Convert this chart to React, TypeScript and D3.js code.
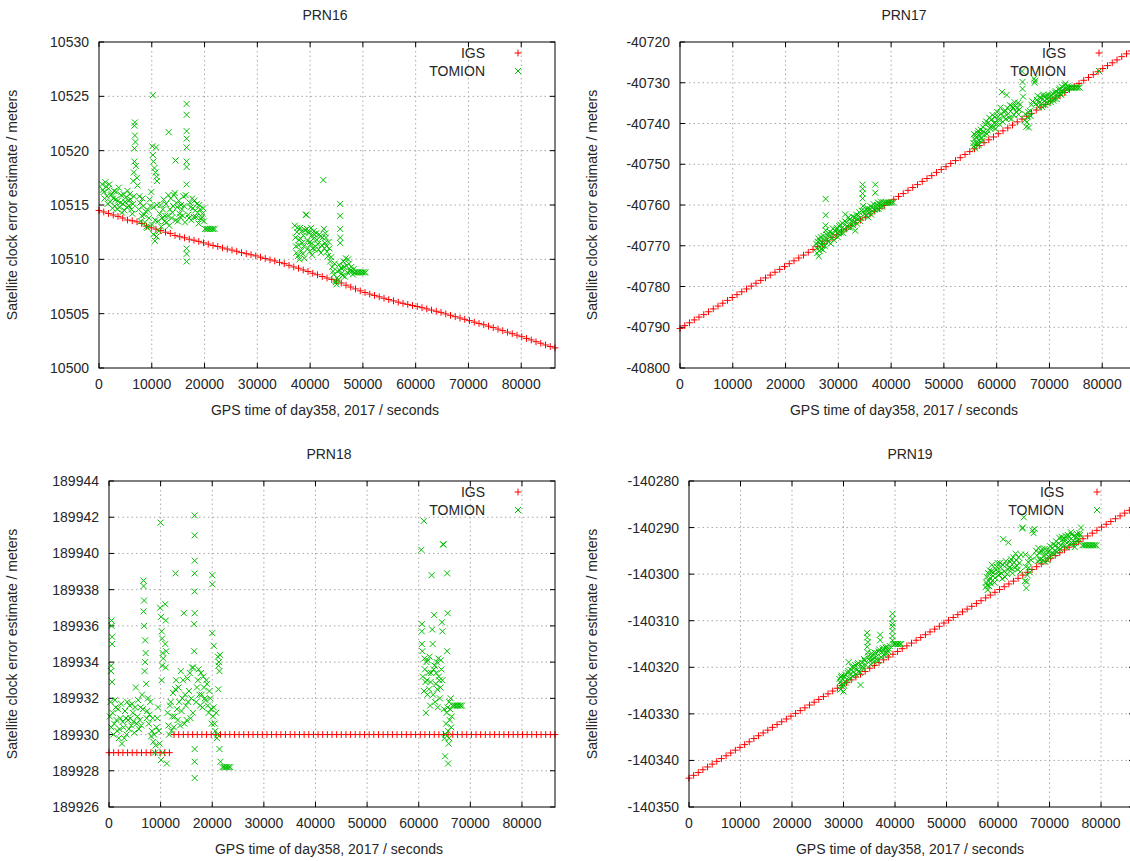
import React from 'react';
import * as d3 from 'd3';

// IGS epochs (every 15 min of the day)
const IGS_EPOCHS = [
  0, 900, 1800, 2700, 3600, 4500, 5400, 6300, 7200, 8100, 9000, 9900,
  10800, 11700, 12600, 13500, 14400, 15300, 16200, 17100, 18000, 18900, 19800,
  20700, 21600, 22500, 23400, 24300, 25200, 26100, 27000, 27900, 28800, 29700,
  30600, 31500, 32400, 33300, 34200, 35100, 36000, 36900, 37800, 38700, 39600,
  40500, 41400, 42300, 43200, 44100, 45000, 45900, 46800, 47700, 48600, 49500,
  50400, 51300, 52200, 53100, 54000, 54900, 55800, 56700, 57600, 58500, 59400,
  60300, 61200, 62100, 63000, 63900, 64800, 65700, 66600, 67500, 68400, 69300,
  70200, 71100, 72000, 72900, 73800, 74700, 75600, 76500, 77400, 78300, 79200,
  80100, 81000, 81900, 82800, 83700, 84600, 85500, 86400,
];

const X_TICKS = [0, 10000, 20000, 30000, 40000, 50000, 60000, 70000, 80000];

// ---- PRN16 ----
const PRN16_TICKS = [10500, 10505, 10510, 10515, 10520, 10525, 10530];
const PRN16_IGS = [
  10514.5, 10514.36, 10514.22, 10514.08, 10513.95, 10513.8, 10513.62, 10513.55, 10513.45, 10513.3, 10513.05, 10512.9,
  10512.78, 10512.65, 10512.5, 10512.38, 10512.2, 10512.08, 10511.98, 10511.85, 10511.76, 10511.65, 10511.52,
  10511.4, 10511.28, 10511.18, 10511.05, 10510.95, 10510.85, 10510.74, 10510.62, 10510.52, 10510.42, 10510.32,
  10510.2, 10510.08, 10509.95, 10509.85, 10509.72, 10509.6, 10509.45, 10509.3, 10509.18, 10509.02, 10508.88,
  10508.72, 10508.58, 10508.42, 10508.28, 10508.15, 10508.0, 10507.82, 10507.62, 10507.45, 10507.28, 10507.1,
  10506.95, 10506.8, 10506.68, 10506.55, 10506.42, 10506.3, 10506.18, 10506.06, 10505.95, 10505.85, 10505.75,
  10505.66, 10505.55, 10505.44, 10505.33, 10505.22, 10505.12, 10504.98, 10504.85, 10504.72, 10504.6, 10504.48,
  10504.36, 10504.22, 10504.1, 10503.98, 10503.85, 10503.72, 10503.58, 10503.44, 10503.3, 10503.16, 10503.02,
  10502.88, 10502.72, 10502.58, 10502.42, 10502.28, 10502.12, 10501.98, 10501.85,
];
const PRN16_TOMION: [number, number][] = [
  [600, 10516.9], [900, 10516.2], [1200, 10517.1], [1500, 10515.8], [1800, 10516.5], [2100, 10515.3], [2400, 10516.0],
  [2700, 10515.6], [3000, 10514.9], [3300, 10516.2], [3600, 10515.4], [3900, 10514.8], [4200, 10515.9], [4500, 10515.1],
  [4800, 10514.5], [5100, 10515.7], [5400, 10516.3], [5700, 10514.9], [6000, 10515.5], [6300, 10514.2], [6600, 10515.8],
  [6500, 10517.2], [6600, 10518.0], [6700, 10519.0], [6700, 10520.2], [6800, 10521.4], [6700, 10522.3], [6800, 10522.6],
  [6900, 10520.8], [7000, 10518.6], [7200, 10517.5], [7300, 10516.8],
  [7500, 10514.6], [7800, 10515.2], [8100, 10514.0], [8400, 10514.9], [8700, 10513.4], [9000, 10513.0], [9300, 10514.5],
  [9600, 10515.5], [9900, 10516.2],
  [10100, 10520.4], [10200, 10519.6], [10300, 10519.0], [10200, 10525.1], [10500, 10518.4], [10700, 10518.0],
  [10900, 10517.6], [10800, 10520.3], [11000, 10517.2], [10300, 10512.3], [10600, 10511.7], [10900, 10512.1], [11200, 10513.5],
  [11500, 10514.2], [11800, 10513.0], [12100, 10514.6], [12400, 10513.5], [12700, 10515.1], [13000, 10514.0], [13200, 10521.7],
  [13300, 10513.1], [13600, 10515.6], [13900, 10514.3], [14200, 10515.9], [14500, 10519.1], [14500, 10513.6], [14800, 10514.8],
  [15100, 10515.4], [15400, 10513.9], [15700, 10514.6], [16000, 10515.8], [16300, 10513.4],
  [16600, 10524.3], [16600, 10523.3], [16600, 10521.8], [16600, 10521.1], [16600, 10520.3], [16600, 10519.0],
  [16600, 10518.5], [16600, 10516.9], [16600, 10511.0], [16600, 10510.5], [16600, 10509.8],
  [16900, 10514.1], [17200, 10515.2], [17500, 10513.6], [17800, 10514.7], [18100, 10515.4], [18400, 10513.9], [18700, 10514.3],
  [19000, 10515.0], [19300, 10513.7], [19600, 10514.2], [19900, 10513.5],
  [750, 10516.4], [1050, 10515.6], [1350, 10516.7], [1650, 10515.1], [1950, 10516.9], [2250, 10515.9], [2550, 10514.7],
  [2850, 10516.3], [3150, 10515.5], [3450, 10514.6], [3750, 10516.6], [4050, 10515.2], [4350, 10514.3], [4650, 10516.0],
  [4950, 10515.3], [5250, 10514.8], [5550, 10515.4], [5850, 10516.0], [6150, 10514.6], [6450, 10515.1], [7650, 10515.8],
  [7950, 10513.5], [8250, 10515.6], [8550, 10514.1], [8850, 10514.4], [9150, 10512.9], [9450, 10513.8], [9750, 10514.9],
  [10050, 10513.2], [10350, 10514.8], [10650, 10513.6], [10950, 10515.0], [11350, 10512.6], [11650, 10515.0], [11950, 10513.8],
  [12250, 10515.5], [12550, 10514.0], [12850, 10513.4], [13150, 10515.9], [13450, 10514.6], [13750, 10513.8], [14050, 10514.9],
  [14350, 10516.1], [14650, 10515.2], [14950, 10513.5], [15250, 10514.2], [15550, 10515.0], [15850, 10514.0], [16150, 10514.9],
  [16450, 10515.9], [17050, 10513.8], [17350, 10514.8], [17650, 10515.6], [17950, 10513.9], [18250, 10514.5], [18550, 10515.1],
  [18850, 10513.3], [19150, 10514.6], [19450, 10513.9], [19750, 10514.7],
  [20100, 10512.8], [20400, 10512.8], [20700, 10512.8], [21000, 10512.8], [21300, 10512.8], [21600, 10512.8], [21900, 10512.8],
  [37100, 10513.1], [37300, 10511.2], [37500, 10512.5], [37700, 10510.3], [37900, 10511.8], [38100, 10512.9], [38300, 10510.8],
  [38500, 10511.5], [38700, 10512.2], [38900, 10510.1], [39200, 10514.1], [39300, 10514.1], [39400, 10512.8], [39600, 10511.0],
  [39800, 10512.4], [40000, 10511.6], [40200, 10512.9], [40400, 10510.4], [40600, 10511.9], [40800, 10512.3], [41000, 10511.2],
  [41300, 10511.8], [41600, 10510.9], [41900, 10512.1], [42200, 10511.3], [42500, 10517.3], [42600, 10512.8], [42800, 10511.5],
  [43000, 10512.0], [43200, 10510.7], [43500, 10511.6], [43800, 10509.8],
  [37200, 10512.0], [37400, 10510.6], [37600, 10512.9], [37800, 10511.3], [38000, 10510.0], [38200, 10511.9], [38400, 10512.6],
  [38600, 10510.5], [38800, 10511.2], [39000, 10512.7], [39500, 10511.7], [39700, 10512.5], [39900, 10510.7], [40100, 10511.4],
  [40300, 10512.2], [40500, 10511.0], [40700, 10512.6], [40900, 10510.9], [41150, 10512.4], [41450, 10511.4], [41750, 10512.3],
  [42050, 10510.6], [42350, 10512.0], [42700, 10511.0], [42900, 10512.4], [43100, 10511.2], [43350, 10510.3], [43650, 10511.0],
  [44000, 10510.2], [44350, 10508.9], [44650, 10509.6], [44900, 10507.9], [45100, 10508.3], [45350, 10508.1], [45600, 10509.0],
  [44200, 10509.3], [44500, 10508.6], [44800, 10508.0], [45000, 10507.7], [45200, 10508.9], [45500, 10509.5],
  [45700, 10515.1], [45700, 10514.0], [45700, 10512.8], [45700, 10512.0], [45700, 10511.5],
  [46000, 10508.7], [46300, 10509.8], [46600, 10508.4], [46900, 10509.4], [47200, 10510.0], [47500, 10508.9], [47800, 10509.3],
  [48100, 10508.6], [45850, 10509.2], [46150, 10508.5], [46450, 10509.3], [46750, 10510.1], [47050, 10508.8], [47350, 10509.6],
  [47650, 10509.0], [47950, 10508.9], [48250, 10509.1],
  [48400, 10508.8], [48700, 10508.8], [49000, 10508.8], [49300, 10508.8], [49600, 10508.8], [49900, 10508.8], [50200, 10508.8],
  [50500, 10508.8],
];

// ---- PRN17 ----
const PRN17_TICKS = [-40800, -40790, -40780, -40770, -40760, -40750, -40740, -40730, -40720];
const PRN17_IGS = [
  -40790.3, -40789.6, -40788.9, -40788.2, -40787.5, -40786.9, -40786.2, -40785.5, -40784.8, -40784.1, -40783.4, -40782.7,
  -40782.0, -40781.3, -40780.6, -40779.9, -40779.2, -40778.5, -40777.9, -40777.2, -40776.5, -40775.8, -40775.1,
  -40774.4, -40773.7, -40773.0, -40772.3, -40771.6, -40770.9, -40770.2, -40769.5, -40768.8, -40768.0, -40767.3,
  -40766.6, -40765.9, -40765.1, -40764.4, -40763.7, -40763.0, -40762.2, -40761.5, -40760.8, -40760.1, -40759.4,
  -40758.6, -40757.9, -40757.2, -40756.4, -40755.7, -40755.0, -40754.2, -40753.5, -40752.8, -40752.0, -40751.3,
  -40750.6, -40749.8, -40749.1, -40748.4, -40747.6, -40746.9, -40746.2, -40745.4, -40744.7, -40744.0, -40743.3,
  -40742.5, -40741.8, -40741.1, -40740.4, -40739.6, -40738.9, -40738.2, -40737.5, -40736.7, -40736.0, -40735.3,
  -40734.5, -40733.8, -40733.1, -40732.4, -40731.6, -40730.9, -40730.2, -40729.4, -40728.7, -40728.0, -40727.3,
  -40726.5, -40725.8, -40725.1, -40724.4, -40723.6, -40722.9, -40722.2, -40721.5,
];
const PRN17_TOMION: [number, number][] = [
  [25800, -40769.5], [26000, -40771.8], [26200, -40768.2], [26300, -40772.6], [26500, -40770.4], [26700, -40767.9],
  [26900, -40769.8], [27100, -40771.0], [27300, -40768.5],
  [27600, -40758.5], [27600, -40762.5], [27600, -40765.0], [27600, -40766.2],
  [27800, -40767.3], [28100, -40769.0], [28400, -40766.6], [28700, -40768.1], [29000, -40765.8], [29300, -40767.5],
  [29600, -40766.0], [29900, -40767.9], [30200, -40765.2], [30500, -40766.8], [30800, -40764.5], [31100, -40765.9],
  [31300, -40762.3], [31500, -40764.2], [31800, -40765.4], [32100, -40763.6], [32400, -40764.8], [32700, -40762.9],
  [33000, -40764.0], [33200, -40766.3], [33400, -40762.4], [33700, -40763.5], [34000, -40761.8], [34200, -40763.1],
  [34600, -40755.0], [34600, -40756.0], [34600, -40757.2], [34600, -40758.4], [34700, -40760.2],
  [34900, -40761.4], [35200, -40762.6], [35500, -40760.8], [35800, -40762.0], [36100, -40760.3], [36400, -40761.5],
  [36700, -40759.8], [37000, -40755.0], [37000, -40757.0], [37200, -40760.9], [37500, -40759.4], [37800, -40760.5],
  [38100, -40759.2], [38400, -40760.1],
  [25900, -40770.6], [26100, -40769.0], [26400, -40771.2], [26600, -40768.9], [26800, -40770.8], [27000, -40769.2],
  [27200, -40767.6], [27450, -40770.1], [27950, -40768.4], [28250, -40767.2], [28550, -40769.5], [28850, -40766.9],
  [29150, -40768.6], [29450, -40766.5], [29750, -40765.6], [30050, -40767.0], [30350, -40764.8], [30650, -40765.7],
  [30950, -40766.9], [31250, -40764.0], [31650, -40765.2], [31950, -40763.0], [32250, -40765.6], [32550, -40763.9],
  [32850, -40765.0], [33100, -40763.1], [33550, -40764.6], [33850, -40762.6], [34100, -40763.9], [34400, -40761.4],
  [35050, -40762.1], [35350, -40761.2], [35650, -40763.0], [35950, -40761.0], [36250, -40762.4], [36550, -40760.6],
  [36850, -40761.2], [37350, -40760.0], [37650, -40761.0], [37950, -40759.8], [38250, -40760.4],
  [38600, -40759.4], [38900, -40759.4], [39200, -40759.4], [39500, -40759.4], [39800, -40759.4], [40100, -40759.4],
  [40400, -40759.4],
  [55600, -40744.8], [55700, -40742.6], [55900, -40746.1], [56100, -40743.5], [56300, -40745.0], [56500, -40741.8],
  [56700, -40744.1], [56900, -40742.3], [57100, -40743.6], [57400, -40740.9], [57700, -40742.8], [58000, -40739.5],
  [58300, -40741.7], [58600, -40738.6], [58900, -40740.8], [59200, -40737.9], [59500, -40739.9], [59800, -40741.3],
  [60100, -40737.2], [60400, -40739.0], [60700, -40736.1], [61000, -40732.3], [61300, -40738.4], [61600, -40736.8],
  [61900, -40733.0], [62200, -40737.6], [62500, -40735.5], [62800, -40738.9], [63100, -40736.2], [63400, -40734.8],
  [63700, -40737.1], [64000, -40735.0], [64300, -40736.6],
  [64800, -40727.2], [64900, -40729.8], [64900, -40731.5], [65000, -40733.4],
  [65300, -40739.2], [65600, -40740.8], [65900, -40738.3], [66100, -40741.0], [66300, -40736.9], [66600, -40735.4],
  [67100, -40729.0], [67200, -40730.0], [67300, -40729.5],
  [67600, -40734.2], [67900, -40736.0], [68200, -40733.6], [68500, -40735.1], [68800, -40732.9], [69100, -40734.4],
  [69400, -40733.2], [69700, -40735.0], [70000, -40733.5], [70300, -40734.8], [70600, -40732.6], [70900, -40733.9],
  [71200, -40732.1], [71500, -40733.3], [71800, -40731.7], [72100, -40732.8], [72400, -40731.0], [72700, -40732.4],
  [73000, -40730.2], [73300, -40731.8],
  [55650, -40745.6], [55800, -40743.8], [56000, -40742.9], [56200, -40744.6], [56400, -40742.4], [56600, -40745.3],
  [56800, -40743.0], [57000, -40741.5], [57250, -40744.2], [57550, -40742.0], [57850, -40740.2], [58150, -40742.6],
  [58450, -40739.8], [58750, -40741.2], [59050, -40739.0], [59350, -40741.0], [59650, -40738.4], [59950, -40740.0],
  [60250, -40738.3], [60550, -40740.2], [60850, -40737.6], [61150, -40739.6], [61450, -40737.2], [61750, -40738.9],
  [62050, -40736.2], [62350, -40738.6], [62650, -40737.0], [62950, -40735.8], [63250, -40737.9], [63550, -40735.6],
  [63850, -40736.3], [64150, -40737.8], [64450, -40735.3], [65450, -40737.7], [65750, -40739.6], [66000, -40737.2],
  [66450, -40738.2], [66800, -40734.6], [67450, -40735.2], [67750, -40733.2], [68050, -40734.9], [68350, -40733.8],
  [68650, -40736.0], [68950, -40733.4], [69250, -40735.5], [69550, -40734.0], [69850, -40733.0], [70150, -40734.2],
  [70450, -40733.1], [70750, -40734.4], [71050, -40732.4], [71350, -40734.0], [71650, -40732.5], [71950, -40731.4],
  [72250, -40733.0], [72550, -40731.8], [72850, -40730.6], [73150, -40731.4], [73450, -40730.8],
  [73600, -40731.2], [73900, -40731.2], [74200, -40731.2], [74500, -40731.2], [74800, -40731.2], [75100, -40731.2],
  [75400, -40731.2], [75700, -40731.2],
];

// ---- PRN18 ----
const PRN18_TICKS = [189926, 189928, 189930, 189932, 189934, 189936, 189938, 189940, 189942, 189944];
const PRN18_IGS = [
  189929, 189929, 189929, 189929, 189929, 189929, 189929, 189929, 189929, 189929, 189929, 189929,
  189929, 189929, 189930, 189930, 189930, 189930, 189930, 189930, 189930, 189930, 189930,
  189930, 189930, 189930, 189930, 189930, 189930, 189930, 189930, 189930, 189930, 189930,
  189930, 189930, 189930, 189930, 189930, 189930, 189930, 189930, 189930, 189930, 189930,
  189930, 189930, 189930, 189930, 189930, 189930, 189930, 189930, 189930, 189930, 189930,
  189930, 189930, 189930, 189930, 189930, 189930, 189930, 189930, 189930, 189930, 189930,
  189930, 189930, 189930, 189930, 189930, 189930, 189930, 189930, 189930, 189930, 189930,
  189930, 189930, 189930, 189930, 189930, 189930, 189930, 189930, 189930, 189930, 189930,
  189930, 189930, 189930, 189930, 189930, 189930, 189930, 189930,
];
const PRN18_TOMION: [number, number][] = [
  [500, 189936.3], [500, 189936.0], [600, 189935.4], [600, 189935.0], [400, 189933.8], [400, 189933.5], [600, 189932.9],
  [300, 189931.8], [700, 189931.2], [1000, 189930.6], [1300, 189931.5], [1600, 189930.2], [1900, 189929.8], [2200, 189930.9],
  [2500, 189929.5], [2800, 189930.4], [3100, 189931.3], [3400, 189930.0], [3700, 189930.8], [4000, 189931.6], [4300, 189930.5],
  [4600, 189931.2], [4900, 189930.1], [5200, 189932.6], [5500, 189931.0], [5800, 189930.3], [6100, 189931.5], [6400, 189932.2],
  [150, 189931.0], [450, 189930.4], [850, 189930.0], [1150, 189931.9], [1450, 189930.8], [1750, 189931.4], [2050, 189930.3],
  [2350, 189931.7], [2650, 189930.7], [2950, 189929.8], [3250, 189930.9], [3550, 189931.8], [3850, 189930.3], [4150, 189930.9],
  [4450, 189931.7], [4750, 189930.7], [5050, 189931.5], [5350, 189930.6], [5650, 189931.9], [5950, 189930.8], [6250, 189930.5],
  [6550, 189931.4],
  [6700, 189938.5], [6700, 189938.2], [6800, 189937.4], [6700, 189936.8], [6800, 189936.0], [7000, 189935.2], [7100, 189934.5],
  [7000, 189934.0], [6900, 189933.5], [7200, 189932.8],
  [7400, 189931.3], [7700, 189930.6], [8000, 189931.8], [8300, 189930.2], [8600, 189929.6], [8900, 189929.0], [9200, 189930.4],
  [9500, 189931.5], [9800, 189929.5],
  [7300, 189930.9], [7550, 189932.0], [7850, 189931.1], [8150, 189929.9], [8450, 189930.9], [8750, 189930.0], [9050, 189929.4],
  [9350, 189930.9], [9650, 189930.2],
  [10000, 189941.7], [9900, 189937.0], [10100, 189936.5], [10200, 189935.7], [10300, 189935.3], [10400, 189934.5],
  [10500, 189934.2], [10300, 189933.8], [10200, 189933.0], [10100, 189928.6], [10400, 189929.0], [10900, 189937.2],
  [11000, 189936.3], [10900, 189935.0], [11100, 189934.6], [11000, 189933.7], [11200, 189928.4],
  [11500, 189930.5], [11800, 189931.6], [12100, 189930.2], [12400, 189932.3], [12700, 189931.0], [12900, 189938.9],
  [13000, 189933.0], [13300, 189930.8], [13600, 189931.8], [13900, 189933.5], [14200, 189932.0], [14500, 189936.7],
  [14600, 189930.6], [14900, 189931.6], [15200, 189933.1], [15500, 189932.4], [15800, 189930.9], [16100, 189933.7],
  [11350, 189931.2], [11650, 189930.0], [11950, 189931.8], [12250, 189931.0], [12550, 189930.4], [12850, 189932.5],
  [13150, 189931.4], [13450, 189932.6], [13750, 189930.5], [14050, 189931.3], [14350, 189933.0], [14750, 189932.2],
  [15050, 189930.8], [15350, 189931.8], [15650, 189933.4], [15950, 189932.0], [16250, 189931.2],
  [16600, 189942.1], [16600, 189941.0], [16600, 189939.6], [16600, 189938.9], [16600, 189937.9], [16600, 189936.7],
  [16500, 189936.1], [16500, 189934.6], [16300, 189933.7], [16600, 189929.2], [16600, 189928.5], [16600, 189927.6],
  [16900, 189931.8], [17200, 189933.0], [17500, 189932.2], [17800, 189933.4], [18100, 189931.5], [18400, 189932.6],
  [18700, 189931.9], [19000, 189932.8], [19300, 189931.2], [19600, 189932.0], [19900, 189930.6],
  [17050, 189932.6], [17350, 189933.6], [17650, 189931.6], [17950, 189932.2], [18250, 189933.2], [18550, 189932.0],
  [18850, 189933.0], [19150, 189931.6], [19450, 189932.4], [19750, 189931.4], [20150, 189931.0], [20450, 189930.6],
  [20750, 189931.2],
  [20000, 189938.8], [20000, 189938.3], [20000, 189935.6], [20300, 189934.9],
  [20300, 189931.5], [20600, 189930.2], [20900, 189929.8], [21000, 189930.0],
  [21100, 189934.3], [21200, 189933.8], [21300, 189934.0], [21400, 189933.5], [21500, 189934.4], [21200, 189932.5],
  [21400, 189929.2], [21600, 189928.5],
  [22000, 189928.2], [22300, 189928.2], [22600, 189928.2], [22900, 189928.2], [23200, 189928.2], [23500, 189928.2],
  [60500, 189940.2], [60600, 189936.1], [60600, 189935.7], [60600, 189935.0], [60700, 189934.6], [61000, 189941.8],
  [60800, 189933.2], [61000, 189932.4], [61200, 189933.6], [61400, 189931.2], [61600, 189933.0], [61800, 189934.1],
  [62000, 189932.5], [62200, 189931.6], [62400, 189933.4], [62500, 189938.8], [62600, 189935.8], [62700, 189935.0],
  [62800, 189932.2], [63000, 189936.6], [63100, 189933.8], [63300, 189932.8], [63500, 189934.0], [63700, 189931.5],
  [63900, 189933.2], [64100, 189932.0], [64300, 189934.1], [64500, 189936.2], [64600, 189935.7], [64600, 189933.0],
  [61100, 189934.2], [61300, 189932.9], [61500, 189934.0], [61700, 189932.2], [61900, 189933.4], [62100, 189934.3],
  [62300, 189932.9], [62900, 189933.6], [63200, 189931.8], [63400, 189933.4], [63600, 189932.5], [63800, 189934.2],
  [64000, 189933.0], [64200, 189932.6], [64400, 189933.6],
  [64700, 189940.5], [64800, 189940.5], [64900, 189931.4], [65000, 189929.8], [65100, 189928.8], [65300, 189930.6],
  [65400, 189931.2], [65500, 189938.9], [65600, 189936.7], [65500, 189934.6], [65700, 189930.2], [65800, 189929.5],
  [65700, 189928.4], [65900, 189931.8], [66000, 189930.8], [66200, 189932.0], [66400, 189931.0],
  [65200, 189930.0], [65600, 189931.5], [65900, 189929.8], [66100, 189931.4], [66300, 189930.4],
  [66600, 189931.6], [66900, 189931.6], [67200, 189931.6], [67500, 189931.6], [67800, 189931.6], [68100, 189931.6],
  [68400, 189931.6],
];

// ---- PRN19 ----
const PRN19_TICKS = [-140350, -140340, -140330, -140320, -140310, -140300, -140290, -140280];
const PRN19_IGS = [
  -140343.8, -140343.2, -140342.6, -140342.0, -140341.4, -140340.8, -140340.2, -140339.6, -140339.0, -140338.4, -140337.8, -140337.2,
  -140336.6, -140336.0, -140335.3, -140334.7, -140334.1, -140333.5, -140332.9, -140332.3, -140331.7, -140331.1, -140330.5,
  -140329.9, -140329.3, -140328.7, -140328.1, -140327.5, -140326.9, -140326.3, -140325.7, -140325.1, -140324.5, -140323.9,
  -140323.3, -140322.7, -140322.1, -140321.5, -140320.9, -140320.2, -140319.6, -140319.0, -140318.4, -140317.8, -140317.2,
  -140316.6, -140316.0, -140315.4, -140314.8, -140314.2, -140313.6, -140313.0, -140312.4, -140311.8, -140311.2, -140310.5,
  -140309.9, -140309.3, -140308.7, -140308.1, -140307.5, -140306.9, -140306.3, -140305.7, -140305.1, -140304.5, -140303.9,
  -140303.3, -140302.7, -140302.1, -140301.5, -140300.9, -140300.2, -140299.6, -140299.0, -140298.4, -140297.8, -140297.2,
  -140296.6, -140296.0, -140295.4, -140294.8, -140294.2, -140293.6, -140293.0, -140292.4, -140291.8, -140291.2, -140290.6,
  -140289.9, -140289.3, -140288.7, -140288.1, -140287.5, -140286.9, -140286.3, -140285.7,
];
const PRN19_TOMION: [number, number][] = [
  [29200, -140322.5], [29400, -140324.8], [29600, -140321.8], [29800, -140323.6], [30000, -140325.2], [30200, -140322.0],
  [30500, -140323.3], [30800, -140321.2], [31000, -140318.9], [31200, -140322.4], [31500, -140320.6], [31800, -140321.9],
  [32100, -140320.0], [32400, -140321.5], [32700, -140319.4], [33000, -140320.8], [33300, -140323.8], [33500, -140319.0],
  [33800, -140320.3], [34100, -140318.6],
  [29300, -140323.2], [29500, -140322.1], [29700, -140324.0], [29900, -140322.6], [30100, -140323.9], [30350, -140321.6],
  [30650, -140322.6], [30950, -140320.8], [31350, -140321.4], [31650, -140319.9], [31950, -140321.0], [32250, -140319.5],
  [32550, -140320.6], [32850, -140319.1], [33150, -140321.2], [33650, -140319.8], [33950, -140318.2], [34300, -140319.5],
  [34600, -140312.6], [34600, -140313.6], [34700, -140314.6], [34600, -140315.6], [34700, -140316.8],
  [35000, -140318.2], [35300, -140319.4], [35600, -140317.6], [35900, -140318.8], [36200, -140317.0], [36500, -140318.3],
  [36800, -140316.6], [37100, -140313.0], [37100, -140314.2], [37300, -140317.8], [37600, -140316.2], [37900, -140317.4],
  [38200, -140315.8], [38500, -140317.0], [38800, -140316.0],
  [34850, -140317.6], [35150, -140318.6], [35450, -140317.0], [35750, -140318.2], [36050, -140316.8], [36350, -140317.7],
  [36650, -140318.6], [36950, -140316.2], [37450, -140316.8], [37750, -140315.9], [38050, -140317.0], [38350, -140315.6],
  [38650, -140316.5], [38950, -140315.4],
  [39500, -140308.5], [39500, -140309.6], [39500, -140310.6], [39500, -140311.2], [39500, -140312.2], [39500, -140313.3],
  [39500, -140314.2],
  [39700, -140315.0], [40000, -140315.0], [40300, -140315.0], [40600, -140315.0], [40900, -140315.0], [41200, -140315.0],
  [57600, -140302.8], [57800, -140300.6], [58000, -140303.4], [58200, -140301.5], [58400, -140299.2], [58600, -140302.0],
  [58800, -140298.0], [59000, -140300.4], [59300, -140301.8], [59600, -140299.0], [59900, -140297.6], [60200, -140300.2],
  [60500, -140298.5], [60800, -140301.0], [61000, -140292.5], [61200, -140299.4], [61500, -140297.2], [61800, -140300.0],
  [62000, -140293.2], [62200, -140298.6], [62500, -140296.8], [62800, -140299.8], [63100, -140297.5], [63400, -140295.6],
  [63700, -140298.2], [64000, -140296.4], [64300, -140299.5],
  [57700, -140301.8], [57900, -140302.4], [58100, -140299.8], [58300, -140302.6], [58500, -140300.8], [58700, -140299.4],
  [58900, -140301.4], [59150, -140299.6], [59450, -140300.8], [59750, -140298.4], [60050, -140299.6], [60350, -140297.6],
  [60650, -140299.8], [60950, -140298.0], [61350, -140300.6], [61650, -140298.0], [61950, -140299.0], [62350, -140297.4],
  [62650, -140298.8], [62950, -140296.4], [63250, -140298.6], [63550, -140297.0], [63850, -140299.0], [64150, -140297.6],
  [64450, -140295.8],
  [64700, -140290.2], [64800, -140290.0], [65000, -140287.8], [65300, -140295.8], [65200, -140301.5], [65500, -140303.0],
  [65700, -140300.2], [66000, -140298.6], [66300, -140296.3], [66700, -140290.6], [66900, -140291.2], [67100, -140290.3],
  [65400, -140298.4], [65600, -140301.6], [65850, -140297.4], [66150, -140299.6], [66450, -140297.0],
  [67400, -140295.0], [67700, -140297.2], [68000, -140295.4], [68300, -140296.8], [68600, -140294.6], [68900, -140296.0],
  [69200, -140297.4], [69500, -140294.9], [69800, -140296.2], [70100, -140294.0], [70400, -140295.5], [70700, -140293.6],
  [71000, -140295.0], [71300, -140293.0], [71600, -140294.5], [71900, -140292.2], [72200, -140293.8], [72500, -140292.6],
  [72800, -140294.0], [73100, -140291.8], [73400, -140293.3], [73700, -140292.0], [74000, -140293.5], [74300, -140291.5],
  [74600, -140292.8], [74900, -140294.2], [75200, -140292.0], [75500, -140293.0], [75800, -140291.2], [76100, -140290.0],
  [67550, -140296.0], [67850, -140294.4], [68150, -140297.0], [68450, -140295.2], [68750, -140297.0], [69050, -140294.6],
  [69350, -140295.8], [69650, -140297.0], [69950, -140295.0], [70250, -140296.0], [70550, -140294.4], [70850, -140295.6],
  [71150, -140293.8], [71450, -140295.2], [71750, -140293.4], [72050, -140294.6], [72350, -140292.0], [72650, -140293.2],
  [72950, -140292.4], [73250, -140294.2], [73550, -140291.6], [73850, -140292.8], [74150, -140291.0], [74450, -140293.4],
  [74750, -140291.8], [75050, -140293.2], [75350, -140291.4], [75650, -140292.4], [75950, -140291.6],
  [76400, -140293.8], [76700, -140293.8], [77000, -140293.8], [77300, -140293.8], [77600, -140293.8], [77900, -140293.8],
  [78200, -140293.8], [78500, -140293.8], [78800, -140293.8], [79100, -140293.8],
];

const RED = '#ff0000';
const GREEN = '#00c000';
const FONT = '"Liberation Sans", Arial, sans-serif';
const TEXT = '#262626';

const panels = [
  { title: 'PRN16', igs: PRN16_IGS, tomion: PRN16_TOMION, ticks: PRN16_TICKS,
    left: 99, right: 555, top: 42, bottom: 368, cx: 325, ylx: 17 },
  { title: 'PRN17', igs: PRN17_IGS, tomion: PRN17_TOMION, ticks: PRN17_TICKS,
    left: 680, right: 1136, top: 42, bottom: 368, cx: 904, ylx: 597 },
  { title: 'PRN18', igs: PRN18_IGS, tomion: PRN18_TOMION, ticks: PRN18_TICKS,
    left: 109, right: 555, top: 481, bottom: 807, cx: 329, ylx: 17 },
  { title: 'PRN19', igs: PRN19_IGS, tomion: PRN19_TOMION, ticks: PRN19_TICKS,
    left: 689, right: 1134, top: 481, bottom: 807, cx: 910, ylx: 597 },
];

const plusPath = 'M-3.4,0H3.4M0,-3.4V3.4';
const crossPath = 'M-3,-3L3,3M-3,3L3,-3';

function Panel({ p }: { p: typeof panels[number] }) {
  const x = d3.scaleLinear().domain([0, 86400]).range([p.left, p.right]);
  const y = d3.scaleLinear()
    .domain([p.ticks[0], p.ticks[p.ticks.length - 1]])
    .range([p.bottom, p.top]);
  const tl = 5;
  const midY = (p.top + p.bottom) / 2;

  return (
    <g fontFamily={FONT} fill={TEXT}>
      <text x={p.cx} y={p.top - 22} fontSize={14} textAnchor="middle">{p.title}</text>

      {/* grid */}
      <g stroke="#a8a8a8" strokeWidth={1} strokeDasharray="1.5,3">
        {X_TICKS.slice(1).map(t => (
          <line key={'gx' + t} x1={x(t)} x2={x(t)} y1={p.top} y2={p.bottom} />
        ))}
        {p.ticks.slice(1, -1).map(t => (
          <line key={'gy' + t} x1={p.left} x2={p.right} y1={y(t)} y2={y(t)} />
        ))}
      </g>

      {/* ticks */}
      <g stroke="#000" strokeWidth={1}>
        {X_TICKS.map(t => (
          <g key={'tx' + t}>
            <line x1={x(t)} x2={x(t)} y1={p.bottom} y2={p.bottom - tl} />
            <line x1={x(t)} x2={x(t)} y1={p.top} y2={p.top + tl} />
          </g>
        ))}
        {p.ticks.map(t => (
          <g key={'ty' + t}>
            <line x1={p.left} x2={p.left + tl} y1={y(t)} y2={y(t)} />
            <line x1={p.right} x2={p.right - tl} y1={y(t)} y2={y(t)} />
          </g>
        ))}
      </g>

      {/* tick labels */}
      {X_TICKS.map(t => (
        <text key={'lx' + t} x={x(t)} y={p.bottom + 21} fontSize={14} textAnchor="middle">{t}</text>
      ))}
      {p.ticks.map(t => (
        <text key={'ly' + t} x={p.left - 10} y={y(t) + 5} fontSize={14} textAnchor="end">{String(t)}</text>
      ))}

      <text x={p.cx} y={p.bottom + 47} fontSize={14} textAnchor="middle">
        GPS time of day358, 2017 / seconds
      </text>
      <text transform={`translate(${p.ylx},${midY}) rotate(-90)`} fontSize={14} textAnchor="middle">
        Satellite clock error estimate / meters
      </text>

      {/* data */}
      <g stroke={RED} strokeWidth={1} fill="none">
        {p.igs.map((v, i) => (
          <path key={'i' + i} d={plusPath} transform={`translate(${x(IGS_EPOCHS[i])},${y(v)})`} />
        ))}
      </g>
      <g stroke={GREEN} strokeWidth={1} fill="none">
        {p.tomion.map((d, i) => (
          <path key={'t' + i} d={crossPath} transform={`translate(${x(d[0])},${y(d[1])})`} />
        ))}
      </g>

      {/* frame */}
      <rect x={p.left} y={p.top} width={p.right - p.left} height={p.bottom - p.top}
        fill="none" stroke="#000" strokeWidth={1} />

      {/* legend */}
      <text x={p.right - 70} y={p.top + 16} fontSize={14} textAnchor="end">IGS</text>
      <path d={plusPath} transform={`translate(${p.right - 37},${p.top + 11})`} stroke={RED} fill="none" />
      <text x={p.right - 70} y={p.top + 34} fontSize={14} textAnchor="end">TOMION</text>
      <path d={crossPath} transform={`translate(${p.right - 37},${p.top + 29})`} stroke={GREEN} fill="none" />
    </g>
  );
}

export default function App() {
  return (
    <svg width={1130} height={861} style={{ position: 'absolute', left: 0, top: 0, background: '#fff' }}>
      <rect width={1130} height={861} fill="#fff" />
      {panels.map(p => <Panel key={p.title} p={p} />)}
    </svg>
  );
}
